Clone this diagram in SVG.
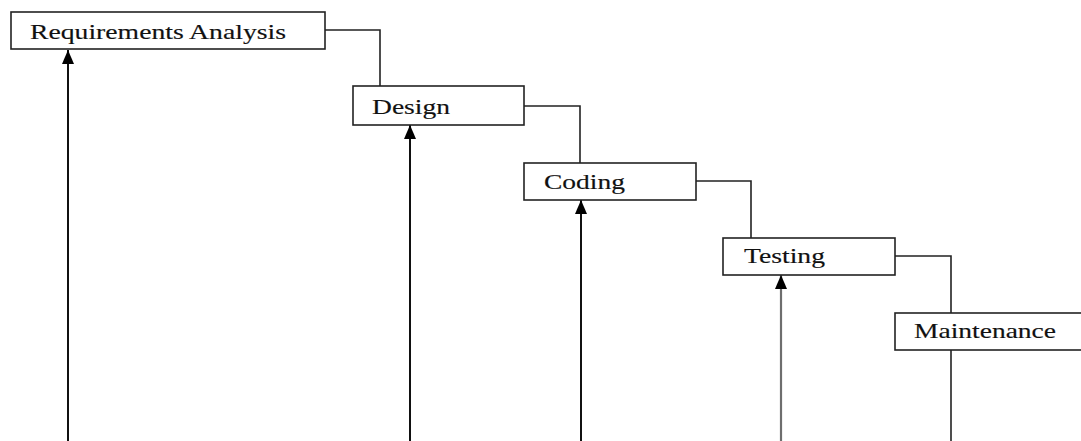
<svg xmlns="http://www.w3.org/2000/svg" width="1081" height="441" viewBox="0 0 1081 441">
<style>
.box{fill:#fff;stroke:#222;stroke-width:1.6}
.lbl{font-family:"Liberation Serif","Times New Roman",serif;font-size:21px;fill:#111;stroke:#111;stroke-width:0.15}
.conn{fill:none;stroke:#222;stroke-width:1.6}
.arr{stroke:#111;stroke-width:2}
.arrg{stroke:#6e6e6e;stroke-width:2.2}
</style>
<defs>
<marker id="ah" markerUnits="userSpaceOnUse" markerWidth="14" markerHeight="12" refX="14" refY="6" orient="auto">
<path d="M0,0 L14,6 L0,12 Z" fill="#000"/>
</marker>
</defs>
<rect width="1081" height="441" fill="#fff"/>
<g id="connectors">
<path class="conn" d="M325,30 H380 V86"/>
<path class="conn" d="M524,106 H580 V163"/>
<path class="conn" d="M696,181 H751 V238"/>
<path class="conn" d="M895,256 H951 V313"/>
<path class="conn" d="M951,350 V441"/>
<line class="arr" x1="68" y1="441" x2="68" y2="50" marker-end="url(#ah)"/>
<line class="arr" x1="410" y1="441" x2="410" y2="125" marker-end="url(#ah)"/>
<line class="arr" x1="581" y1="441" x2="581" y2="200" marker-end="url(#ah)"/>
<line class="arrg" x1="781" y1="441" x2="781" y2="275" marker-end="url(#ah)"/>
</g>
<g id="requirements">
<rect class="box" x="11" y="12" width="314" height="37"/>
<text class="lbl" x="30" y="39" textLength="256" lengthAdjust="spacingAndGlyphs">Requirements Analysis</text>
</g>
<g id="design">
<rect class="box" x="353" y="86" width="171" height="39"/>
<text class="lbl" x="372" y="114" textLength="78" lengthAdjust="spacingAndGlyphs">Design</text>
</g>
<g id="coding">
<rect class="box" x="524" y="163" width="172" height="37"/>
<text class="lbl" x="544" y="189" textLength="81" lengthAdjust="spacingAndGlyphs">Coding</text>
</g>
<g id="testing">
<rect class="box" x="723" y="238" width="172" height="37"/>
<text class="lbl" x="744" y="263" textLength="81" lengthAdjust="spacingAndGlyphs">Testing</text>
</g>
<g id="maintenance">
<rect class="box" x="895" y="313" width="190" height="37"/>
<text class="lbl" x="914" y="338" textLength="142" lengthAdjust="spacingAndGlyphs">Maintenance</text>
</g>
</svg>
